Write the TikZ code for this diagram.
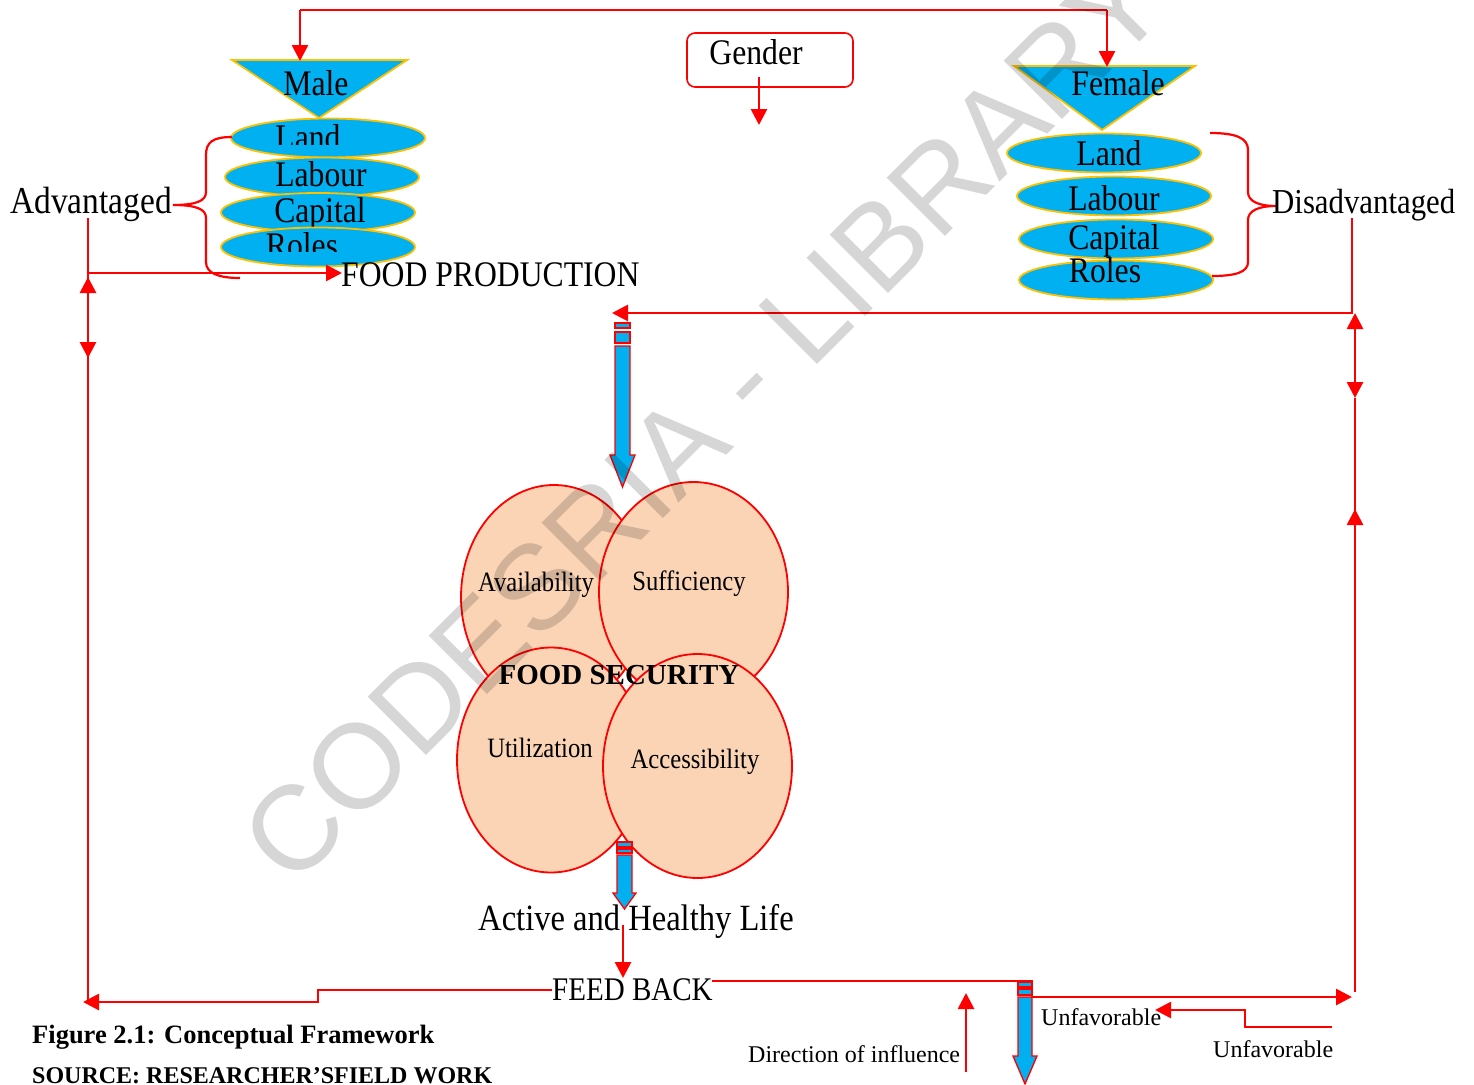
\documentclass[tikz,border=0pt]{standalone}
\usepackage{fontspec}
\setmainfont{Liberation Serif}
\newfontfamily\cam[FakeStretch=0.88]{Liberation Serif}
\newfontfamily\wmfont{Liberation Sans}
\usetikzlibrary{arrows.meta,shapes.geometric}
\definecolor{cyanf}{HTML}{00B0F0}
\definecolor{gold}{HTML}{FFC000}
\definecolor{peach}{HTML}{FAD4B4}
\definecolor{rd}{HTML}{FF0000}
\tikzset{
  conn/.style={draw=rd, line width=2.8pt},
  ar/.style={conn, -{Triangle[length=16pt,width=16pt]}},
  dar/.style={conn, {Triangle[length=16pt,width=16pt]}-{Triangle[length=16pt,width=16pt]}},
  res/.style={ellipse, draw=gold, line width=1.8pt, fill=cyanf, minimum width=194pt, minimum height=39pt, inner sep=0},
  circ/.style={ellipse, draw=rd, line width=1.8pt, fill=peach, inner sep=0},
  tri/.style={draw=gold, line width=1.8pt, fill=cyanf, line join=miter},
  barrow/.style={draw=rd, line width=1.3pt, fill=cyanf},
  gbox/.style={draw=rd, line width=1.6pt, rounded corners=8pt, minimum width=166pt, minimum height=54pt, inner sep=0},
  lbl/.style={font=\cam\fontsize{36}{36}\selectfont, inner sep=0, anchor=base},
  lblw/.style={lbl, anchor=base west},
  clbl/.style={font=\cam\fontsize{28}{28}\selectfont, inner sep=0, anchor=base},
  tnr/.style={font=\fontsize{24}{24}\selectfont, inner sep=0, anchor=base west},
  brace/.style={draw=rd, line width=2.2pt},
}
\begin{document}
\begin{tikzpicture}[x=1pt,y=-1pt]
\useasboundingbox (0,0) rectangle (1474,1084);
\fill[white] (0,0) rectangle (1474,1084);

% ---------- top connector ----------
\coordinate (tl) at (300,10);
\coordinate (tr) at (1107,10);
\coordinate (maletop) at (300,61);
\coordinate (femtop) at (1107,67);

% ---------- Male side ----------
\draw[tri] (232,60) -- (407,60) -- (319,118) -- cycle;
\node[lbl] (male) at (316,95) {Male};
\node[res] (mland) at (328,138) {};
\begin{scope}
  \clip (200,100) rectangle (460,144);
  \node[lbl] (tmland) at (308,149) {Land};
\end{scope}
\node[res] (mlab) at (322,177) {};
\node[lbl] (tmlab) at (321,186) {Labour};
\node[res] (mcap) at (318,212.5) {};
\node[lbl] (tmcap) at (320,222) {Capital};
\node[res] (mrol) at (318,247) {};
\begin{scope}
  \clip (200,220) rectangle (460,251);
  \node[lbl] (tmrol) at (302,257) {Roles};
\end{scope}

\draw[brace] (232,137) .. controls (213,137) and (206,142) .. (206,155) -- (206,192)
   .. controls (206,201) and (196,205) .. (173,205)
   .. controls (196,205) and (206,209) .. (206,218) -- (206,262)
   .. controls (206,273) and (218,278) .. (240,278);
\node[lblw, font=\cam\fontsize{38}{38}\selectfont] (adv) at (10,213) {Advantaged};
\node[lblw] (fp) at (341,286) {FOOD PRODUCTION};

% ---------- Gender ----------
\node[gbox] (gender) at (770,60) {};
\node[lbl] (gtext) at (756,64) {Gender};
\coordinate (gin) at (759,77);
\coordinate (gout) at (759,125);
\draw[ar] (gin) -- (gout);

% ---------- Female side ----------
\draw[tri] (1014,66) -- (1195,66) -- (1102,130) -- cycle;
\node[lbl] (female) at (1118,95) {Female};
\node[res] (fland) at (1104,153) {};
\node[lbl] (tfland) at (1109,165) {Land};
\node[res] (flab) at (1114,196) {};
\node[lbl] (tflab) at (1114,210) {Labour};
\node[res] (fcap) at (1116,239) {};
\node[lbl] (tfcap) at (1114,249) {Capital};
\node[res] (frol) at (1116,280) {};
\node[lbl] (tfrol) at (1105,282) {Roles};

\draw[brace] (1210,133) .. controls (1236,133) and (1248,138) .. (1248,150) -- (1248,192)
   .. controls (1248,201) and (1258,206) .. (1276,206)
   .. controls (1258,206) and (1248,211) .. (1248,220) -- (1248,262)
   .. controls (1248,272) and (1236,276) .. (1212,276);
\node[lblw, font=\cam\fontsize{35}{35}\selectfont] (dis) at (1272,213) {Disadvantaged};

% top connectors
\draw[conn] (tl) -- (tr);
\draw[ar] (tl) -- (maletop);
\draw[ar] (tr) -- (femtop);

% ---------- left loop ----------
\coordinate (lt) at (88,218);
\coordinate (lfp) at (88,273);
\coordinate (fpin) at (342,273);
\coordinate (lb) at (88,1000);
\draw[conn] (lt) -- (lb);
\draw[ar] (lfp) -- (fpin);
\draw[dar] (88,277) -- (88,358);

% ---------- right loop ----------
\coordinate (rt) at (1352,218);
\coordinate (rc) at (1352,313);
\coordinate (fsin) at (612,313);
\draw[ar] (rt) -- (rc) -- (fsin);
\draw[dar] (1355,313) -- (1355,398);
\draw[conn] (1355,398) -- (1355,512);
\draw[ar] (1355,992) -- (1355,509);

% ---------- top block arrow ----------
\draw[barrow] (615,323) rectangle (630,328);
\draw[barrow] (615,332) rectangle (630,343);
\draw[barrow] (615,346) -- (630,346) -- (630,455) -- (635,455) -- (622.5,487) -- (610,455) -- (615,455) -- cycle;

% ---------- food security circles ----------
\node[circ, minimum width=186pt, minimum height=224pt] (avail) at (554,597) {};
\node[circ, minimum width=189pt, minimum height=220pt] (suff) at (693.5,592) {};
\node[circ, minimum width=188pt, minimum height=225pt] (util) at (551,760) {};
\node[circ, minimum width=189pt, minimum height=224pt] (acc) at (697.5,766) {};
\node[clbl] (tavail) at (536,591) {Availability};
\node[clbl] (tsuff) at (689,590) {Sufficiency};
\node[clbl] (tutil) at (540,757) {Utilization};
\node[clbl] (tacc) at (695,768) {Accessibility};
\node[font=\bfseries\fontsize{29}{29}\selectfont, inner sep=0, anchor=base] (fs) at (619,684) {FOOD SECURITY};

% ---------- lower block arrow ----------
\draw[barrow] (617,842) rectangle (632,847);
\draw[barrow] (617,849) rectangle (632,853);
\draw[barrow] (617,855) -- (632,855) -- (632,893) -- (636,893) -- (624.5,909) -- (613,893) -- (617,893) -- cycle;

\node[lbl, font=\cam\fontsize{37}{37}\selectfont] (life) at (636,930) {Active and Healthy Life};
\node[lblw, font=\cam\fontsize{33}{33}\selectfont] (fb) at (552,1000) {FEED BACK};
\coordinate (lifeout) at (623,925);
\coordinate (fbin) at (623,978);
\draw[ar] (lifeout) -- (fbin);

% feedback left
\coordinate (fbw) at (552,990);
\draw[ar] (fbw) -- (318,990) -- (318,1002) -- (83,1002);
% feedback right
\coordinate (fbe) at (712,981);
\draw[ar] (fbe) -- (1032,981) -- (1032,997) -- (1352,997);

% bottom block arrow
\draw[barrow] (1018,982) rectangle (1032,987);
\draw[barrow] (1018,989) rectangle (1032,995);
\draw[barrow] (1018,997) -- (1032,997) -- (1032,1056) -- (1037,1056) -- (1025,1084) -- (1013,1056) -- (1018,1056) -- cycle;

% legend
\node[tnr] (dir) at (748,1062) {Direction of influence};
\draw[ar] (966,1072) -- (966,993);
\node[tnr] (unf1) at (1041,1025) {Unfavorable};
\node[tnr] (unf2) at (1213,1057) {Unfavorable};
\draw[ar] (1332,1027) -- (1245,1027) -- (1245,1010) -- (1155,1010);

% captions
\node[font=\bfseries\fontsize{26.5}{26.5}\selectfont, inner sep=0, anchor=base west] (cap1) at (32,1043) {Figure 2.1: Conceptual Framework};
\node[font=\bfseries\fontsize{24}{24}\selectfont, inner sep=0, anchor=base west] (cap2) at (32,1083) {SOURCE: RESEARCHER’SFIELD WORK};

% watermark
\node[font=\wmfont\fontsize{120}{120}\selectfont, text=black, text opacity=0.16, rotate=45, inner sep=0, anchor=base west] (wm) at (292,890) {CODESRIA - LIBRARY};
\end{tikzpicture}
\end{document}
